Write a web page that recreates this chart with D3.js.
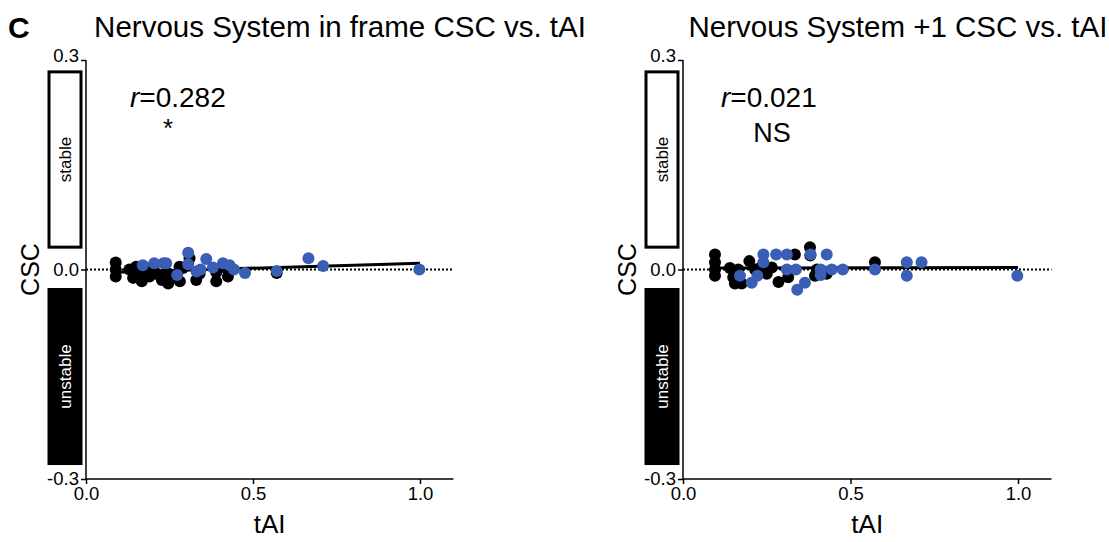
<!DOCTYPE html>
<html><head><meta charset="utf-8">
<script src="https://cdn.jsdelivr.net/npm/d3@7"></script>
<style>body{margin:0;background:#fff;} svg{display:block;font-family:"Liberation Sans",Arial,sans-serif;}</style>
</head><body><svg id="c" width="1109" height="542"></svg>
<script>
// ---- data ----
const xTicks = [0.0, 0.5, 1.0];
const yTicks = [0.3, 0.0, -0.3];
const panelTitles = ["Nervous System in frame CSC vs. tAI", "Nervous System +1 CSC vs. tAI"];
const rValues = ["0.282", "0.021"];
const sigLabels = ["*", "NS"];

// panel 1 (in frame): [tAI, CSC]
const p1Black = [[0.089,0.010],[0.089,0.000],[0.089,-0.010],[0.13,0.000],[0.141,-0.012],[0.15,0.004],[0.167,-0.017],[0.16,-0.006],[0.18,0.000],[0.19,-0.010],[0.2,0.004],[0.21,-0.006],[0.227,-0.015],[0.246,-0.020],[0.24,-0.004],[0.26,-0.010],[0.28,0.004],[0.281,-0.017],[0.29,0.002],[0.305,0.006],[0.31,0.016],[0.33,-0.015],[0.34,-0.006],[0.39,-0.017],[0.39,-0.004],[0.425,-0.010],[0.42,0.002],[0.571,-0.005]];
const p1Blue = [[0.17,0.006],[0.204,0.009],[0.232,0.009],[0.24,0.009],[0.273,-0.008],[0.306,0.024],[0.306,0.0075],[0.331,-0.003],[0.343,0.000],[0.36,0.015],[0.38,0.003],[0.41,0.009],[0.43,0.006],[0.443,0.000],[0.476,-0.005],[0.571,-0.002],[0.666,0.016],[0.71,0.005],[0.998,0.000]];
const p1Fit = [[0.089,-0.004],[1.0,0.009]];

// panel 2 (+1 frame): [tAI, CSC]
const p2Black = [[0.0955,0.0215],[0.0955,0.0105],[0.0955,0.000],[0.0955,-0.009],[0.14,0.002],[0.15,-0.011],[0.155,-0.020],[0.175,-0.020],[0.165,0.000],[0.198,0.012],[0.215,0.000],[0.232,0.003],[0.25,-0.006],[0.265,0.003],[0.285,-0.018],[0.314,-0.011],[0.334,0.0215],[0.379,0.032],[0.38,0.02],[0.394,-0.009],[0.40,0.000],[0.429,-0.006],[0.573,0.0105]];
const p2Blue = [[0.17,-0.009],[0.205,-0.019],[0.222,-0.009],[0.24,0.0215],[0.24,0.0105],[0.278,0.0215],[0.31,0.0215],[0.31,0.000],[0.337,0.000],[0.341,-0.029],[0.364,-0.019],[0.381,0.0215],[0.411,0.000],[0.411,-0.008],[0.429,0.0215],[0.444,0.000],[0.477,0.000],[0.573,0.000],[0.668,0.0105],[0.668,-0.009],[0.712,0.0105],[0.998,-0.009]];
const p2Fit = [[0.0955,0.002],[1.0,0.003]];

const panels = [
  {title: panelTitles[0], r: rValues[0], sig: sigLabels[0], black: p1Black, blue: p1Blue, fit: p1Fit, x0: 86, x1: 453.4, tx: 340, rx: 130, sx: 168, sy: 137},
  {title: panelTitles[1], r: rValues[1], sig: sigLabels[1], black: p2Black, blue: p2Blue, fit: p2Fit, x0: 683, x1: 1051.5, tx: 898, rx: 721, sx: 772, sy: 142}
];

const svg = d3.select("#c");
const BLUE = "#3a5db6";
const yTop = 60, yBot = 479;
const FONT = "Liberation Sans, Arial, sans-serif";
const fmt = d => d.toFixed(1);

svg.append("text").attr("x", 8).attr("y", 38).style("font-size", "30px").attr("font-weight", "bold").text("C");

panels.forEach((p, i) => {
  const x = d3.scaleLinear().domain([0, 1.1]).range([p.x0, p.x1]);
  const y = d3.scaleLinear().domain([-0.3, 0.3]).range([yBot, yTop]);
  const g = svg.append("g");

  // title
  g.append("text").attr("x", p.tx).attr("y", 37)
    .attr("text-anchor", "middle").style("font-size", "29.5px").text(p.title);

  // stable / unstable boxes
  const bx = p.x0 - 37, bw = 32;
  g.append("rect").attr("x", bx).attr("y", y(0.283)).attr("width", bw).attr("height", y(0.032) - y(0.283))
    .attr("fill", "#fff").attr("stroke", "#000").attr("stroke-width", 3);
  g.append("text").attr("transform", `translate(${bx + bw / 2 + 6},${(y(0.283) + y(0.032)) / 2}) rotate(-90)`)
    .attr("text-anchor", "middle").style("font-size", "17px").text("stable");
  g.append("rect").attr("x", bx - 1.5).attr("y", y(-0.0265)).attr("width", bw + 3).attr("height", y(-0.28) - y(-0.0265))
    .attr("fill", "#000");
  g.append("text").attr("transform", `translate(${bx + bw / 2 + 6},${(y(-0.0265) + y(-0.28)) / 2}) rotate(-90)`)
    .attr("text-anchor", "middle").style("font-size", "17px").attr("fill", "#fff").text("unstable");

  // zero dotted line
  g.append("line").attr("x1", x(0)).attr("x2", x(1.1)).attr("y1", y(0)).attr("y2", y(0))
    .attr("stroke", "#000").attr("stroke-width", 2).attr("stroke-dasharray", "2,2");

  // axes
  const ya = g.append("g").attr("transform", `translate(${x(0)},0)`)
    .call(d3.axisLeft(y).tickValues(yTicks).tickFormat(fmt).tickSize(5).tickPadding(2));
  ya.attr("font-size", null).attr("font-family", null);
  ya.selectAll("text").style("font-size", "18.5px").style("font-family", FONT);
  ya.selectAll("text").filter(d => d === 0.3).attr("dy", "0.1em");
  const xa = g.append("g").attr("transform", `translate(0,${y(-0.3)})`)
    .call(d3.axisBottom(x).tickValues(xTicks).tickFormat(fmt).tickSize(5).tickPadding(3));
  xa.attr("font-size", null).attr("font-family", null);
  xa.selectAll("text").style("font-size", "18.5px").style("font-family", FONT);
  [ya, xa].forEach(a => { a.select(".domain").attr("stroke-width", 1.5); a.selectAll(".tick line").attr("stroke-width", 1.5); });
  xa.select(".domain").attr("d", `M${x(0)},0H${x(1.1)}`);
  ya.select(".domain").attr("d", `M0,${y(-0.3)}V${y(0.3)}`);

  // axis labels
  g.append("text").attr("transform", `translate(${x(0) - 47},${y(0)}) rotate(-90)`)
    .attr("text-anchor", "middle").style("font-size", "25px").text("CSC");
  g.append("text").attr("x", x(0.55)).attr("y", 533).attr("text-anchor", "middle").style("font-size", "26px").text("tAI");

  // points & fit
  const dot = (sel, data, col) => sel.selectAll(null).data(data).enter().append("circle")
    .attr("cx", d => x(d[0])).attr("cy", d => y(d[1])).attr("r", 6).attr("fill", col);
  dot(g.append("g"), p.black, "#000");
  g.append("path").datum(p.fit).attr("d", d3.line().x(d => x(d[0])).y(d => y(d[1])))
    .attr("stroke", "#000").attr("stroke-width", 3).attr("fill", "none");
  dot(g.append("g"), p.blue, BLUE);

  // r annotation
  const rt = g.append("text").attr("x", p.rx).attr("y", 107).style("font-size", "28px");
  rt.append("tspan").attr("font-style", "italic").text("r");
  rt.append("tspan").text("=" + p.r);
  g.append("text").attr("x", p.sx).attr("y", p.sy).attr("text-anchor", "middle")
    .style("font-size", i ? "27px" : "26px").text(p.sig);
});
</script></body></html>
